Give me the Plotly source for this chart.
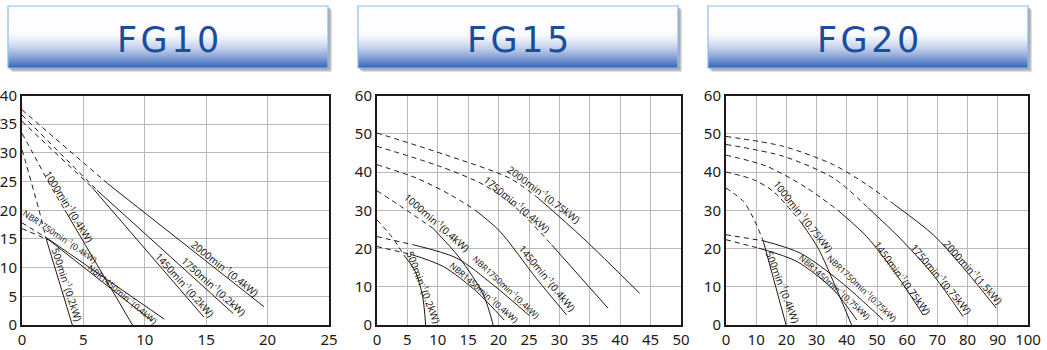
import plotly.graph_objects as go

W, H = 1047, 350

# ---------------- data ----------------
PANEL_TITLES = ["FG10", "FG15", "FG20"]

FG10_SERIES = ["2000min<sup>-1</sup>(0.4kW)", "1750min<sup>-1</sup>(0.2kW)", "1450min<sup>-1</sup>(0.2kW)",
               "1000min<sup>-1</sup>(0.4kW)", "500min<sup>-1</sup>(0.2kW)",
               "NBR1750min<sup>-1</sup>(0.4kW)", "NBR1450min<sup>-1</sup>(0.4kW)"]
FG10_DASH_X = [[0, 7.0], [0, 6.1], [0, 5.7], [0, 0.9, 2.5, 3.5], [0, 0.25, 1.35, 2.0], [0, 2.0], [0, 2.2]]
FG10_DASH_Y = [[37.5, 24.6], [36.6, 23.5], [35.5, 24.0], [33.4, 29.9, 23.6, 20.0], [30.5, 28.7, 20.3, 14.8],
               [17.8, 15.2], [16.8, 14.8]]
FG10_SOLID_X = [[7.0, 19.7], [6.1, 17.2], [5.7, 14.8], [3.5, 9.0], [2.0, 4.1], [2.0, 11.6], [2.2, 10.6]]
FG10_SOLID_Y = [[24.6, 3.2], [23.5, 2.0], [24.0, 1.4], [20.0, 0.0], [14.8, 0.0], [15.2, 1.0], [14.8, 0.7]]

FG15_SERIES = ["2000min<sup>-1</sup>(0.75kW)", "1750min<sup>-1</sup>(0.4kW)", "1450min<sup>-1</sup>(0.4kW)",
               "1000min<sup>-1</sup>(0.4kW)", "500min<sup>-1</sup>(0.2kW)",
               "NBR1750min<sup>-1</sup>(0.4kW)", "NBR1450min<sup>-1</sup>(0.4kW)"]
FG15_DASH_X = [[0, 12.0, 21.8, 26.5], [0, 10.3, 17.5, 22.9, 28.7], [0, 6.5, 12.0, 16.1], [0, 4.3, 9.2],
               [0, 2.6, 4.4], [0, 5.9], [0, 5.5]]
FG15_DASH_Y = [[50.2, 44.1, 38.4, 33.2], [46.7, 41.5, 36.7, 30.6, 21.0], [41.9, 38.4, 34.1, 30.1],
               [35.1, 30.6, 25.3], [27.5, 22.7, 18.3], [23.1, 21.0], [20.5, 18.5]]
FG15_SOLID_X = [[26.5, 33.9, 43.2], [28.7, 38.0], [16.1, 20.2, 26.2, 31.2], [9.2, 13.6, 17.5, 19.1],
                [4.4, 6.3, 7.5, 8.0], [5.9, 13.1, 19.1, 25.1], [5.5, 10.9, 16.4, 20.9]]
FG15_SOLID_Y = [[33.2, 22.7, 8.3], [21.0, 4.4], [30.1, 24.5, 12.2, 2.6], [25.3, 17.5, 7.9, 0.0],
                [18.3, 14.0, 7.5, 0.0], [21.0, 17.5, 10.5, 2.4], [18.5, 15.3, 8.7, 1.3]]

FG20_SERIES = ["2000min<sup>-1</sup>(1.5kW)", "1750min<sup>-1</sup>(0.75kW)", "1450min<sup>-1</sup>(0.75kW)",
               "1000min<sup>-1</sup>(0.75kW)", "500min<sup>-1</sup>(0.4kW)",
               "NBR1750min<sup>-1</sup>(0.75kW)", "NBR1450min<sup>-1</sup>(0.75kW)"]
FG20_DASH_X = [[0, 19.0, 35.6, 46.6, 55.9], [0, 19.0, 35.6, 47.1], [0, 13.5, 26.8, 37.2], [0, 9.1, 15.7, 24.6],
               [0, 5.8, 9.1, 12.4], [0, 12.4], [0, 10.8]]
FG20_DASH_Y = [[49.3, 46.7, 41.9, 36.7, 31.4], [47.2, 44.1, 38.4, 30.6], [44.4, 41.5, 35.8, 29.9],
               [40.0, 38.0, 34.9, 27.1], [35.8, 32.3, 27.9, 21.8], [23.6, 22.0], [22.3, 20.1]]
FG20_SOLID_X = [[55.9, 68.6, 79.6, 89.5], [47.1, 57.6, 68.6, 78.5], [37.2, 46.6, 56.5, 65.3],
                [24.6, 30.5, 36.0, 41.6], [12.4, 19.9], [12.4, 24.6, 37.8, 52.1], [10.8, 23.5, 35.6, 43.3]]
FG20_SOLID_Y = [[31.4, 23.6, 14.0, 4.4], [30.6, 22.7, 13.1, 2.2], [29.9, 23.1, 13.1, 2.6],
                [27.1, 20.1, 10.5, 0.0], [21.8, 0.0], [22.0, 18.8, 11.4, 1.3], [20.1, 16.6, 9.2, 1.3]]

X_RANGES = [[0, 25], [0, 50], [0, 100]]
Y_RANGES = [[0, 40], [0, 60], [0, 60]]
X_DTICKS = [5, 5, 10]
Y_DTICKS = [5, 10, 10]

# ---------------- layout (label placement: x, y, angle, font size) ----------------
FG10_LABEL_POS = [(16.5, 9.9, 38.5, 10), (15.6, 6.8, 42, 10), (13.3, 7.0, 48, 10), (3.8, 20.7, 58, 10),
                  (3.7, 7.0, 72, 10), (3.1, 15.6, 34, 8.5), (8.2, 5.4, 40, 8.5)]
FG15_LABEL_POS = [(27.4, 34.2, 37, 10), (23.0, 31.6, 39.5, 10), (28.0, 12.2, 50.5, 10), (9.8, 26.9, 41, 10),
                  (7.7, 10.0, 69, 10), (21.3, 10.0, 43, 8.5), (17.6, 8.7, 41, 8.5)]
FG20_LABEL_POS = [(81.8, 13.8, 48, 10), (71.3, 11.9, 50, 10), (58.6, 12.4, 53.7, 10), (25.5, 28.4, 51.5, 10),
                  (18.9, 10.0, 69, 10), (45.0, 9.6, 43.5, 8.5), (36.2, 10.0, 42, 8.5)]

PLOT_PX_X = [(22, 329), (377, 681), (726, 1028)]
PLOT_PX_Y = (95.5, 325)
HEADER_PX_X = [(8, 328), (358, 678), (708, 1028)]
HEADER_PX_Y = (6, 68)

INK = "#231815"
GRID = "#b9b9b9"


def px(xp):
    return xp / W


def py(yp):
    return 1 - yp / H


panels = [
    (FG10_SERIES, FG10_DASH_X, FG10_DASH_Y, FG10_SOLID_X, FG10_SOLID_Y, FG10_LABEL_POS),
    (FG15_SERIES, FG15_DASH_X, FG15_DASH_Y, FG15_SOLID_X, FG15_SOLID_Y, FG15_LABEL_POS),
    (FG20_SERIES, FG20_DASH_X, FG20_DASH_Y, FG20_SOLID_X, FG20_SOLID_Y, FG20_LABEL_POS),
]

fig = go.Figure()
annotations = []
shapes = []

for i, (names, dx, dy, sx, sy, lpos) in enumerate(panels):
    xa = "x" if i == 0 else f"x{i+1}"
    ya = "y" if i == 0 else f"y{i+1}"
    for k, name in enumerate(names):
        fig.add_trace(go.Scatter(x=dx[k], y=dy[k], mode="lines", xaxis=xa, yaxis=ya,
                                 line=dict(color=INK, width=1, dash="5px,4px", shape="spline", smoothing=0.8),
                                 hoverinfo="skip", showlegend=False))
        fig.add_trace(go.Scatter(x=sx[k], y=sy[k], mode="lines", xaxis=xa, yaxis=ya, name=name,
                                 line=dict(color=INK, width=1, shape="spline", smoothing=0.8),
                                 showlegend=False))
        lx, ly, ang, fs = lpos[k]
        annotations.append(dict(x=lx, y=ly, xref=xa, yref=ya, text=name, showarrow=False,
                                xanchor="center", yanchor="middle",
                                textangle=ang, font=dict(family="Noto Sans", size=fs, color=INK)))

    axis_common = dict(showgrid=True, gridcolor=GRID, gridwidth=1.2, zeroline=False,
                       showline=True, linecolor=INK, linewidth=2, mirror=True, automargin=False,
                       ticks="", tickfont=dict(family="Noto Sans", size=15, color=INK))
    x0, x1 = PLOT_PX_X[i]
    fig.update_layout(**{
        ("xaxis" if i == 0 else f"xaxis{i+1}"): dict(
            domain=[px(x0), px(x1)], range=X_RANGES[i], dtick=X_DTICKS[i], anchor=ya, **axis_common),
        ("yaxis" if i == 0 else f"yaxis{i+1}"): dict(
            domain=[py(PLOT_PX_Y[1]), py(PLOT_PX_Y[0])], range=Y_RANGES[i], dtick=Y_DTICKS[i],
            anchor=xa, **axis_common),
    })

    # header box: shadow, gradient (overlapping bands), border, title
    hx0, hx1 = HEADER_PX_X[i]
    hy0, hy1 = HEADER_PX_Y
    shapes.append(dict(type="rect", xref="paper", yref="paper", x0=px(hx0 + 4), x1=px(hx1 + 4),
                       y0=py(hy1 + 4), y1=py(hy0 + 4), fillcolor="rgba(160,160,160,0.35)", line_width=0))
    shapes.append(dict(type="rect", xref="paper", yref="paper", x0=px(hx0 + 2), x1=px(hx1 + 2.5),
                       y0=py(hy1 + 2.5), y1=py(hy0 + 2), fillcolor="rgba(110,110,110,0.45)", line_width=0))
    n = int(hy1 - hy0)
    for s in range(n):
        t = (s + 0.5) / n
        f = max(0.0, (t - 0.40) / 0.60) ** 1.6
        r = int(253 + (50 - 253) * f)
        g = int(253 + (98 - 253) * f)
        b = int(255 + (186 - 255) * f)
        shapes.append(dict(type="rect", xref="paper", yref="paper", x0=px(hx0), x1=px(hx1),
                           y0=py(hy1), y1=py(hy0 + s), fillcolor=f"rgb({r},{g},{b})", line_width=0))
    shapes.append(dict(type="rect", xref="paper", yref="paper", x0=px(hx0), x1=px(hx1),
                       y0=py(hy1), y1=py(hy0), fillcolor="rgba(0,0,0,0)",
                       line=dict(color="#8dbbed", width=1.2)))
    annotations.append(dict(x=px((hx0 + hx1) / 2), y=py(40), xref="paper", yref="paper",
                            xanchor="center", yanchor="middle",
                            text="\u200a".join(PANEL_TITLES[i]), showarrow=False,
                            font=dict(family="DejaVu Sans", size=35, color="#1b4d9f")))

fig.update_layout(width=W, height=H, margin=dict(l=0, r=0, t=0, b=0, autoexpand=False),
                  paper_bgcolor="white", plot_bgcolor="white", showlegend=False,
                  annotations=annotations, shapes=shapes)

fig.write_html("out.html")
